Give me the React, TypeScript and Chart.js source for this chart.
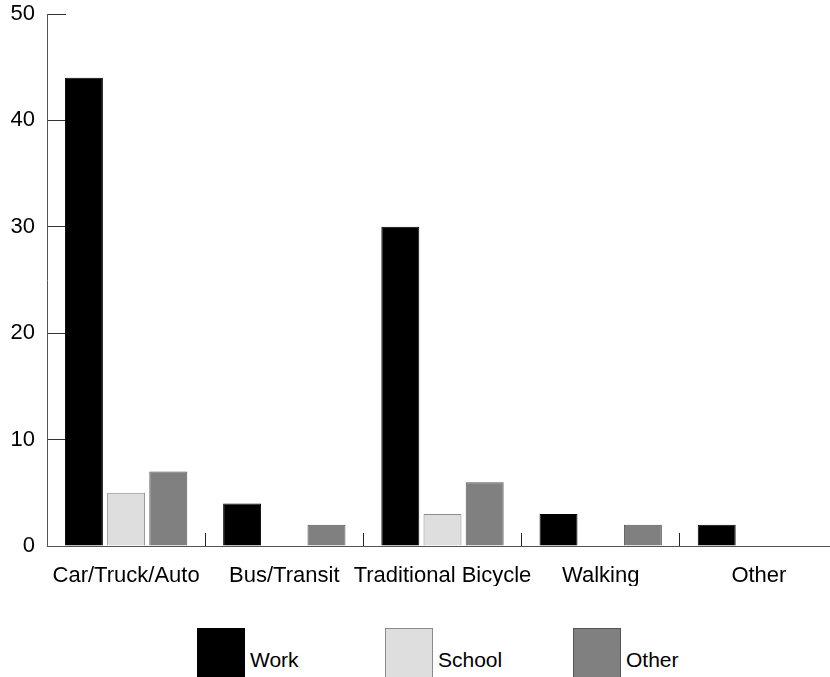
import React, { useEffect, useRef } from "react";
import { Chart, registerables } from "chart.js";

Chart.register(...registerables);

const categories = ["Car/Truck/Auto", "Bus/Transit", "Traditional Bicycle", "Walking", "Other"];
const seriesNames = ["Work", "School", "Other"];
const workValues = [44, 4, 30, 3, 2];
const schoolValues = [5, 0, 3, 0, 0];
const otherValues = [7, 2, 6, 2, 0];
const yTicks = [0, 10, 20, 30, 40, 50];

const fills = ["#000000", "#dedede", "#808080"];
const borders = ["#000000", "#8a8a8a", "#555555"];
const FONT = "'Liberation Sans', Arial, Helvetica, sans-serif";

export default function App() {
  const ref = useRef<HTMLCanvasElement | null>(null);

  useEffect(() => {
    if (!ref.current) return;
    const values = [workValues, schoolValues, otherValues];
    const chart = new Chart(ref.current, {
      type: "bar",
      data: {
        labels: categories,
        datasets: seriesNames.map((name, i) => ({
          label: name,
          data: values[i],
          backgroundColor: fills[i],
          borderColor: borders[i],
          borderWidth: 1,
          categoryPercentage: 0.8,
          barPercentage: 0.9,
        })),
      },
      options: {
        animation: false,
        responsive: false,
        maintainAspectRatio: false,
        layout: { padding: { top: 14, right: 2, left: 0, bottom: 14 } },
        plugins: {
          legend: { display: false },
          tooltip: { enabled: false },
        },
        scales: {
          x: {
            grid: {
              display: true,
              drawOnChartArea: false,
              drawTicks: true,
              tickLength: -13,
              color: "#222222",
              lineWidth: 1,
              offset: true,
            },
            border: { display: true, color: "#555555", width: 1 },
            ticks: {
              color: "#000000",
              font: { family: FONT, size: 22 },
              padding: 30,
              maxRotation: 0,
              autoSkip: false,
            },
            afterFit: (scale: any) => {
              scale.height = 40;
            },
          },
          y: {
            min: 0,
            max: 50,
            afterBuildTicks: (scale: any) => {
              scale.ticks = yTicks.map((v) => ({ value: v }));
            },
            grid: {
              display: true,
              drawOnChartArea: false,
              drawTicks: true,
              tickLength: -19,
              color: "#333333",
              lineWidth: 1,
            },
            border: { display: true, color: "#555555", width: 1 },
            ticks: {
              color: "#000000",
              font: { family: FONT, size: 22 },
              padding: 31,
            },
            afterFit: (scale: any) => {
              scale.width = 47;
              scale.paddingTop = 0;
              scale.paddingBottom = 0;
            },
          },
        },
      },
    });
    return () => chart.destroy();
  }, []);

  return (
    <div
      style={{
        position: "fixed",
        left: 0,
        top: 0,
        width: 830,
        height: 677,
        overflow: "hidden",
        background: "#ffffff",
        fontFamily: FONT,
      }}
    >
      <div style={{ position: "absolute", left: 0, top: 0, width: 840, height: 600 }}>
        <canvas ref={ref} width={840} height={600} style={{ display: "block" }} />
      </div>
      <div style={{ position: "absolute", left: 197, top: 628, display: "flex" }}>
        {seriesNames.map((name, i) => (
          <div key={name} style={{ position: "relative", width: 188, height: 60 }}>
            <div
              style={{
                position: "absolute",
                left: 0,
                top: 0,
                width: 46,
                height: 60,
                background: fills[i],
                border: `1px solid ${borders[i]}`,
              }}
            />
            <span
              style={{
                position: "absolute",
                left: 53,
                top: 21,
                fontSize: 21,
                lineHeight: "21px",
                color: "#000000",
                whiteSpace: "nowrap",
              }}
            >
              {name}
            </span>
          </div>
        ))}
      </div>
    </div>
  );
}
